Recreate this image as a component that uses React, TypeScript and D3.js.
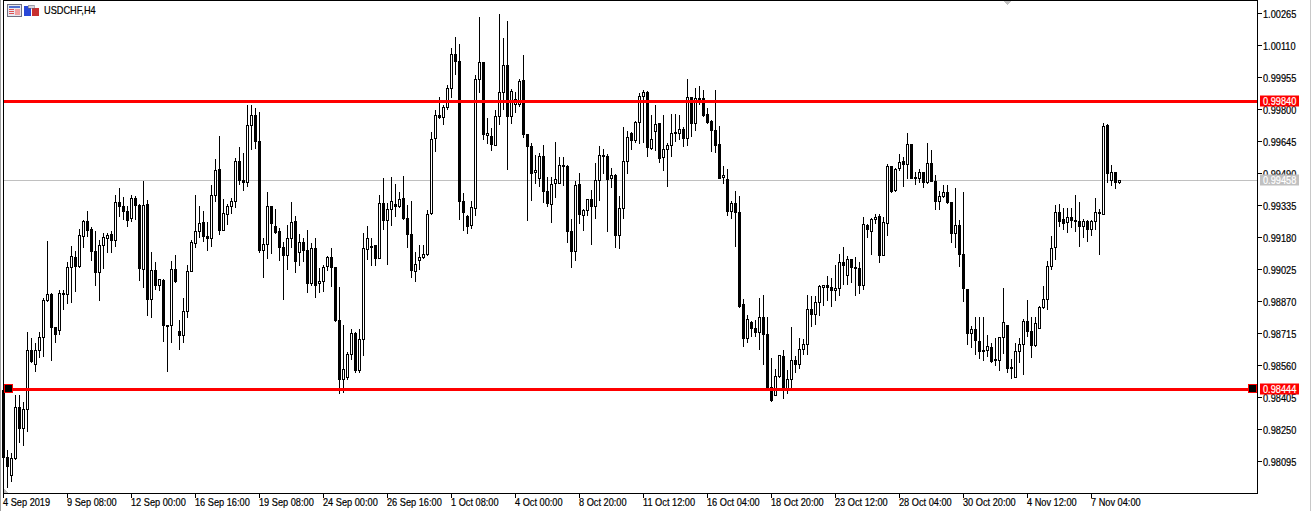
import React from 'react';
import * as d3 from 'd3';

// USDCHF H4, prices in points (1 point = 0.00001)
const opens = [
  98440,98114,98029,98108,98356,98255,98347,98633,98565,98633,
  98696,98873,98904,98744,98728,98909,98902,99035,99083,99038,
  99185,99259,99219,99114,99009,99140,99174,99195,99164,99350,
  99332,99308,99271,99369,99337,99025,99342,98880,99020,98946,
  98973,98755,98752,99025,98725,98705,98820,99014,99149,99208,
  99253,99187,99174,99384,99511,99216,99290,99329,99353,99548,
  99456,99445,99723,99771,99645,99116,99146,99330,99233,99209,
  99133,99091,99175,99258,99106,99156,99117,98956,99127,98956,
  98965,99038,99085,99036,98778,98491,98502,98613,98715,98537,
  98684,99120,99138,99141,99077,99345,99261,99316,99340,99329,
  99369,99272,99195,99015,99069,99083,99096,99296,99660,99771,
  99762,99808,99902,100067,100033,99355,99282,99237,99319,99946,
  100028,99673,99669,99624,99766,99883,100013,99765,99823,99823,
  99941,99679,99621,99493,99464,99574,99403,99340,99440,99443,
  99529,99524,99211,99112,99439,99285,99311,99364,99329,99456,
  99579,99574,99464,99481,99188,99321,99548,99684,99652,99736,
  99862,99883,99613,99692,99732,99566,99605,99626,99686,99682,
  99703,99658,99858,99731,99849,99854,99778,99742,99700,99632,
  99469,99461,99304,99346,99303,98857,98689,98770,98741,98718,
  98793,98712,98453,98416,98507,98605,98449,98492,98586,98563,
  98637,98662,98833,98805,98865,98938,98948,98938,98922,98933,
  99059,98996,99074,99035,99032,98946,99240,99208,99267,99280,
  99091,99248,99524,99408,99513,99548,99532,99631,99471,99464,
  99495,99445,99539,99451,99353,99377,99398,99350,99198,99238,
  99098,98928,98713,98734,98678,98634,98631,98647,98587,98584,
  98696,98754,98550,98502,98628,98662,98773,98725,98655,98741,
  98839,98880,99038,99130,99301,99269,99251,99277,99264,99258,
  99232,99259,99219,99258,99301,99293,99724,99458,99495,99447,
];
const closes = [
  98114,98069,98109,98356,98253,98347,98633,98581,98633,98696,
  98877,98904,98744,98709,98909,98902,99035,99088,99038,99190,
  99259,99212,99111,99009,99141,99180,99190,99164,99350,99329,
  99304,99264,99369,99334,99028,99337,98880,99020,98948,98977,
  98752,98747,99025,98965,98707,98820,99014,99156,99209,99248,
  99183,99174,99384,99505,99216,99296,99332,99355,99548,99455,
  99445,99723,99771,99644,99116,99146,99330,99246,99206,99130,
  99091,99175,99253,99062,99156,99116,98956,99127,98949,98967,
  99035,99085,99033,98776,98491,98541,98613,98715,98537,98686,
  99127,99175,99135,99077,99345,99261,99316,99355,99329,99364,
  99271,99193,99019,99049,99083,99096,99292,99655,99771,99762,
  99810,99902,100067,100031,99353,99300,99235,99325,99946,100028,
  99678,99684,99631,99766,99883,100013,99765,99889,99849,99938,
  99678,99619,99489,99505,99573,99401,99343,99437,99461,99529,
  99524,99208,99111,99432,99290,99313,99363,99329,99456,99577,
  99576,99463,99481,99188,99321,99548,99665,99652,99739,99862,
  99883,99615,99655,99728,99563,99606,99626,99684,99689,99703,
  99658,99858,99731,99854,99854,99770,99739,99697,99624,99468,
  99481,99304,99346,99300,98847,98689,98783,98738,98718,98793,
  98709,98449,98392,98507,98608,98449,98492,98586,98563,98637,
  98662,98831,98805,98865,98944,98948,98938,98922,98933,99059,
  99043,99074,99033,99028,98946,99243,99217,99267,99277,99091,
  99254,99524,99401,99511,99543,99532,99631,99464,99464,99495,
  99445,99539,99451,99353,99379,99400,99348,99198,99238,99096,
  98931,98713,98734,98679,98626,98626,98652,98581,98583,98696,
  98768,98544,98544,98628,98662,98773,98725,98655,98763,98841,
  98880,99040,99127,99301,99256,99250,99277,99261,99256,99232,
  99258,99217,99259,99301,99296,99720,99490,99495,99447,99458,
];
const highs = [
  98449,98153,98134,98419,98419,98384,98721,98691,98670,98721,
  98885,99162,98909,98747,98925,98925,99062,99141,99116,99220,
  99267,99308,99232,99211,99170,99204,99204,99212,99388,99421,
  99377,99334,99388,99380,99342,99453,99364,99109,99062,98981,
  98977,98755,99065,99093,98780,98885,99049,99170,99385,99332,
  99309,99256,99434,99558,99671,99366,99342,99369,99563,99618,
  99587,99821,99821,99805,99787,99180,99400,99334,99317,99224,
  99159,99240,99351,99283,99199,99180,99216,99151,99177,99032,
  99049,99090,99128,99038,98939,98755,98626,98736,98723,98736,
  99203,99235,99177,99146,99385,99469,99345,99472,99439,99400,
  99476,99337,99356,99111,99143,99146,99313,99689,99797,99862,
  99821,99918,100099,100149,100117,99395,99290,99356,99967,100246,
  100028,99757,99708,99797,100261,100148,100228,99897,99883,99947,
  100064,99679,99636,99579,99587,99627,99474,99474,99642,99568,
  99568,99531,99272,99455,99492,99317,99364,99409,99540,99623,
  99611,99584,99519,99490,99382,99716,99697,99692,99744,99878,
  99894,99891,99773,99821,99732,99773,99640,99778,99778,99773,
  99713,99947,99858,99904,99913,99894,99808,99749,99894,99720,
  99526,99511,99358,99405,99380,98881,98804,98776,98780,98889,
  98901,98793,98594,98542,98612,98634,98537,98747,98607,98691,
  98688,98902,98896,98896,98952,98952,98993,98985,99046,99099,
  99132,99091,99078,99086,99062,99279,99245,99275,99293,99293,
  99280,99535,99526,99518,99584,99568,99686,99631,99498,99511,
  99498,99636,99606,99482,99403,99434,99432,99353,99419,99267,
  99400,98930,98751,98797,98797,98797,98710,98667,98694,98699,
  98933,98755,98591,98667,98691,98784,98877,98796,98796,98849,
  98944,99065,99187,99337,99342,99321,99321,99321,99385,99353,
  99272,99267,99264,99369,99316,99737,99729,99531,99497,99460,
];
const lows = [
  98114,97969,97996,98101,98185,98171,98239,98573,98529,98597,
  98599,98868,98583,98670,98707,98828,98856,98864,98917,99033,
  99127,99183,99067,98946,98873,99027,99107,99107,99135,99280,
  99264,99232,99256,99267,98969,98936,98801,98791,98925,98922,
  98675,98529,98670,98960,98634,98671,98791,99011,99127,99180,
  99156,99116,99132,99353,99191,99212,99240,99296,99321,99434,
  99405,99426,99603,99608,99103,98985,99075,99098,99199,99065,
  98877,99022,99127,99009,99043,99062,98912,98944,98888,98912,
  98915,99017,98941,98772,98421,98428,98489,98586,98526,98524,
  98607,99070,99043,99043,99075,99216,99046,99235,99280,99324,
  99264,99130,98985,98965,99022,99074,99090,99288,99595,99752,
  99724,99797,99858,99967,99264,99211,99196,99219,99283,99881,
  99652,99631,99600,99624,99724,99797,99506,99729,99784,99813,
  99660,99261,99356,99439,99426,99345,99329,99251,99371,99439,
  99429,99154,99033,99065,99245,99212,99283,99143,99272,99356,
  99490,99208,99418,99130,99124,99272,99487,99603,99639,99632,
  99639,99571,99603,99600,99539,99502,99426,99571,99644,99652,
  99619,99624,99668,99697,99821,99765,99729,99594,99590,99463,
  99440,99283,99271,99135,98839,98650,98671,98699,98696,98634,
  98562,98449,98384,98415,98500,98398,98424,98449,98524,98544,
  98613,98613,98747,98755,98801,98849,98872,98844,98873,98896,
  98949,98949,98962,98897,98906,98925,99179,99095,99245,99057,
  99090,99187,99397,99401,99502,99426,99463,99463,99435,99445,
  99422,99437,99450,99313,99313,99372,99340,99154,99130,99038,
  98868,98658,98646,98610,98591,98581,98599,98574,98557,98534,
  98615,98524,98497,98500,98574,98513,98699,98597,98650,98736,
  98836,98828,99022,99070,99229,99216,99203,99227,99208,99133,
  99179,99159,99187,99216,99095,99288,99445,99429,99416,99439,
];

const priceTicks = [100265, 100110, 99955, 99800, 99645, 99490, 99335, 99180, 99025, 98870, 98715, 98560, 98405, 98250, 98095];
const timeLabels = [
  '4 Sep 2019', '9 Sep 08:00', '12 Sep 00:00', '16 Sep 16:00', '19 Sep 08:00', '24 Sep 00:00',
  '26 Sep 16:00', '1 Oct 08:00', '4 Oct 00:00', '8 Oct 20:00', '11 Oct 12:00', '16 Oct 04:00',
  '18 Oct 20:00', '23 Oct 12:00', '28 Oct 04:00', '30 Oct 20:00', '4 Nov 12:00', '7 Nov 04:00',
];
const barsPerLabel = 16;
const upperLevel = 99840;
const lowerLevel = 98444;
const bidLevel = 99458;
const symbolTitle = 'USDCHF,H4';

const width = 1312;
const height = 511;
const frameLeft = 3;
const frameRight = 1257;
const frameBottom = 493;

const x = d3.scaleLinear().domain([0, opens.length - 1]).range([3.5, 1119.5]);
const y = d3.scaleLinear().domain([100265, 98095]).range([13.5, 461.5]);
const fmt = (v: number) => (v / 100000).toFixed(5);

const font = '"Liberation Sans", sans-serif';

function Label({px, py, fill = '#000', children}: any) {
  return (
    <text transform={`translate(${px},${py}) scale(0.87,1)`} fontFamily={font} fontSize={10.6} fill={fill} stroke={fill} strokeWidth={0.2}>
      {children}
    </text>
  );
}

function Candle({i}: {i: number}) {
  const up = closes[i] >= opens[i];
  const cx = Math.round(x(i) - 0.5) + 0.5;
  const top = Math.round(y(Math.max(opens[i], closes[i])) - 0.5) + 0.5;
  const bottom = Math.round(y(Math.min(opens[i], closes[i])) - 0.5) + 0.5;
  return (
    <g>
      <line x1={cx} x2={cx} y1={y(highs[i])} y2={y(lows[i])} stroke="#000" />
      <rect x={cx - 1} y={top} width={2} height={Math.max(bottom - top, 1)} fill={up ? '#fff' : '#000'} stroke="#000" />
    </g>
  );
}

function PriceTag({level, fill}: {level: number; fill: string}) {
  const py = Math.round(y(level));
  return (
    <g>
      <rect x={1260} y={py - 5.5} width={39} height={11} fill={fill} />
      <Label px={1263} py={py + 4} fill="#fff">{fmt(level)}</Label>
    </g>
  );
}

function Anchor({left}: {left: number}) {
  return <rect x={left} y={Math.round(y(lowerLevel)) - 4.5} width={8} height={8} fill="#000" stroke="#f00" />;
}

export default function App() {
  return (
    <svg width={width} height={height} style={{position: 'absolute', left: 0, top: 0, background: '#fff'}}>
      <g shapeRendering="crispEdges">
        <rect x={0} y={0} width={1} height={height} fill="#a0a0a0" />
        <rect x={width - 2} y={0} width={1} height={height} fill="#c8c8c8" />

        <line x1={frameLeft} x2={frameRight} y1={y(bidLevel)} y2={y(bidLevel)} stroke="#c0c0c0" />

        {opens.map((_, i) => <Candle key={i} i={i} />)}

        <line x1={frameLeft} x2={frameRight} y1={y(upperLevel)} y2={y(upperLevel)} stroke="#f00" strokeWidth={3} />
        <line x1={frameLeft} x2={frameRight} y1={y(lowerLevel)} y2={y(lowerLevel)} stroke="#f00" strokeWidth={3} />
        <Anchor left={4.5} />
        <Anchor left={1248.5} />

        <path d="M1003,0 L1012,0 L1007.5,5 Z" fill="#c0c0c0" />
        <path d="M4,489 L4,493 L8,493 Z" fill="#c0c0c0" />

        <rect x={frameLeft + 0.5} y={0.5} width={frameRight - frameLeft} height={frameBottom - 0.5} fill="none" stroke="#000" />

        {priceTicks.map(t => (
          <line key={t} x1={frameRight} x2={frameRight + 5} y1={y(t)} y2={y(t)} stroke="#000" />
        ))}
        {timeLabels.map((_, k) => (
          <line key={k} x1={x(k * barsPerLabel)} x2={x(k * barsPerLabel)} y1={frameBottom} y2={frameBottom + 5} stroke="#000" />
        ))}

        {/* toolbar icons next to the symbol name */}
        <rect x={7.5} y={4.5} width={14} height={12} fill="#e8e8f0" stroke="#707080" />
        <rect x={9} y={6} width={11} height={2} fill="#5070d0" />
        <rect x={9} y={9} width={5} height={1} fill="#e05050" />
        <rect x={9} y={11} width={5} height={1} fill="#e05050" />
        <rect x={9} y={13} width={5} height={1} fill="#e05050" />
        <rect x={15} y={9} width={5} height={6} fill="#f0a0a0" />
        <rect x={24} y={6} width={7} height={10} fill="#2a48d8" />
        <rect x={32} y={8} width={7} height={8} fill="#c83030" />
        <rect x={28} y={5} width={6} height={3} fill="#d8d8e0" stroke="#606070" strokeWidth={0.5} />
      </g>

      <Label px={44} py={14}>{symbolTitle}</Label>

      {priceTicks.map(t => (
        <Label key={t} px={1263} py={y(t) + 4}>{fmt(t)}</Label>
      ))}
      {timeLabels.map((label, k) => (
        <Label key={label} px={x(k * barsPerLabel) - 0.5} py={506}>{label}</Label>
      ))}

      <PriceTag level={upperLevel} fill="#f00" />
      <PriceTag level={bidLevel} fill="#c0c0c0" />
      <PriceTag level={lowerLevel} fill="#f00" />
    </svg>
  );
}
